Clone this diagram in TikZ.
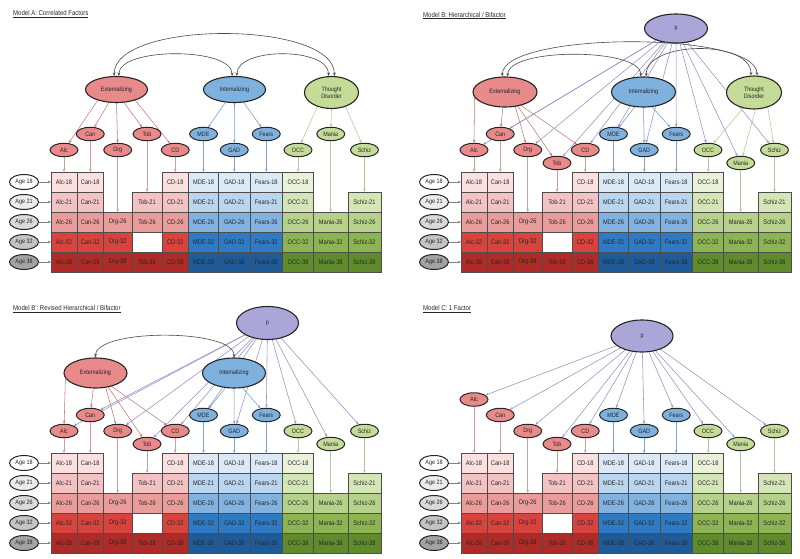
\documentclass[tikz,border=0pt]{standalone}
\usepackage{fontspec}
\setmainfont{Liberation Sans}[FakeStretch=0.86]
\usetikzlibrary{shapes.geometric,arrows.meta}
\pgfdeclarelayer{bg}
\pgfsetlayers{bg,main}
\definecolor{r18}{HTML}{FBE0E0}\definecolor{r21}{HTML}{F3C3C3}\definecolor{r26}{HTML}{EA9C9A}
\definecolor{r32}{HTML}{D9433E}\definecolor{r38}{HTML}{AE2B27}
\definecolor{b18}{HTML}{DCEAF7}\definecolor{b21}{HTML}{BAD5EE}\definecolor{b26}{HTML}{82B2E0}
\definecolor{b32}{HTML}{2F7BC3}\definecolor{b38}{HTML}{1F5B99}
\definecolor{g18}{HTML}{EBF2DC}\definecolor{g21}{HTML}{D4E6B6}\definecolor{g26}{HTML}{B6D28A}
\definecolor{g32}{HTML}{8DB452}\definecolor{g38}{HTML}{5F8B2D}
\definecolor{extc}{HTML}{E8898A}\definecolor{intc}{HTML}{7FB1DF}\definecolor{tdc}{HTML}{C5DC98}
\definecolor{pc}{HTML}{AAA6D7}
\definecolor{age21}{HTML}{ECECEC}\definecolor{age26}{HTML}{DADADA}\definecolor{age32}{HTML}{C4C4C4}\definecolor{age38}{HTML}{A3A3A3}
\definecolor{extl}{HTML}{C27A7A}\definecolor{intl}{HTML}{6E9ED0}\definecolor{tdl}{HTML}{B4C98F}
\definecolor{sextl}{HTML}{D59A9C}\definecolor{sintl}{HTML}{7FA7D3}\definecolor{stdl}{HTML}{B5C79D}
\definecolor{pl}{HTML}{9590C6}\definecolor{arcl}{HTML}{4A4A4A}\definecolor{agel}{HTML}{808080}
\definecolor{bord}{HTML}{262626}\definecolor{cellb}{HTML}{4D4D4D}\definecolor{txt}{HTML}{262626}
\tikzset{
  cell/.style={draw=cellb, line width=0.8pt, inner sep=0pt, outer sep=0pt, minimum height=20pt, font=\fontsize{6.6}{7}\selectfont, text=txt},
  sym/.style={ellipse, draw=bord, line width=1pt, inner sep=0pt, minimum width=28pt, minimum height=13.5pt, font=\fontsize{6.3}{7}\selectfont, text=txt},
  fac/.style={ellipse, draw=bord, line width=1.1pt, inner sep=0pt, font=\fontsize{6.3}{7.4}\selectfont, align=center, text=txt},
  agen/.style={ellipse, draw=bord, line width=1pt, inner sep=0pt, minimum width=29pt, minimum height=15pt, font=\fontsize{6.3}{7}\selectfont, text=txt},
  ln/.style={line width=0.55pt, -{Stealth[length=3.2pt,width=2.6pt]}},
  corr/.style={line width=0.6pt, draw=arcl, {Stealth[length=3.5pt,width=2.8pt]}-{Stealth[length=3.5pt,width=2.8pt]}},
  ttl/.style={anchor=west, font=\fontsize{7}{8}\selectfont, inner sep=0pt, text=txt}
}
\newcommand{\gridpanel}[3]{%
\begin{scope}[shift={(#2,#3)}]
\foreach \nm/\lx/\w/\fam/\rows in {
  Alc/0/26/r/{18/0,21/1,26/2,32/3,38/4},
  Can/26/26.5/r/{18/0,21/1,26/2,32/3,38/4},
  Drg/52.5/28.5/r/{26/2,32/3,38/4},
  Tob/81/30/r/{21/1,26/2,38/4},
  CD/111/26.5/r/{18/0,21/1,26/2,32/3,38/4},
  MDE/137.5/30/b/{18/0,21/1,26/2,32/3,38/4},
  GAD/167.5/31.5/b/{18/0,21/1,26/2,32/3,38/4},
  Fears/199/32.5/b/{18/0,21/1,26/2,32/3,38/4},
  OCC/231.5/31/g/{18/0,21/1,26/2,32/3,38/4},
  Mania/262.5/34.5/g/{26/2,32/3,38/4},
  Schiz/297/33/g/{21/1,26/2,32/3,38/4}}{
  \foreach \rw/\ix in \rows {
    \pgfmathsetmacro{\cx}{51+\lx+\w/2}
    \pgfmathsetmacro{\cy}{182+20*\ix}
    \edef\cc{\fam\rw}
    \node[cell, fill=\cc, minimum width=\w pt] (#1-\nm-\rw) at (\cx,\cy) {\nm-\rw};
  }
}
\node[cell, fill=white, minimum width=30pt] (#1-Tob-32) at (147,242) {};
\foreach \rw/\ix/\ac in {18/0/white,21/1/age21,26/2/age26,32/3/age32,38/4/age38} {
  \node[agen, fill=\ac] (#1-age\rw) at (24,182+20*\ix) {Age \rw};
  \draw[ln, draw=agel] (#1-age\rw) -- (#1-Alc-\rw);
}
\end{scope}}
\newcommand{\sympanel}[6]{%
\begin{scope}[shift={(#2,#3)}]
\node[sym, fill=extc] (#1-Alc) at (64,#4) {Alc};
\node[sym, fill=extc] (#1-Can) at (90.25,134) {Can};
\node[sym, fill=extc] (#1-Drg) at (117.75,150) {Drg};
\node[sym, fill=extc] (#1-Tob) at (147,#5) {Tob};
\node[sym, fill=extc] (#1-CD) at (175.25,150) {CD};
\node[sym, fill=intc] (#1-MDE) at (203.5,134) {MDE};
\node[sym, fill=intc] (#1-GAD) at (234.25,150) {GAD};
\node[sym, fill=intc] (#1-Fears) at (266.25,134) {Fears};
\node[sym, fill=tdc] (#1-OCC) at (298,150) {OCC};
\node[sym, fill=tdc] (#1-Mania) at (330.75,#6) {Mania};
\node[sym, fill=tdc] (#1-Schiz) at (364.5,150) {Schiz};
\end{scope}
\foreach \s/\r/\c in {Alc/18/sextl, Can/18/sextl, Drg/26/sextl, Tob/21/sextl, CD/18/sextl, MDE/18/sintl, GAD/18/sintl, Fears/18/sintl, OCC/18/stdl, Mania/26/stdl, Schiz/21/stdl}
  \draw[ln, draw=\c] (#1-\s) -- (#1-\s-\r);
}
\begin{document}
\begin{tikzpicture}[x=1pt, y=-1pt]
\useasboundingbox (0,0) rectangle (800,559);
% titles
\node[ttl] (tA) at (13,14) {\underline{Model A: Correlated Factors}};
\node[ttl] (tB) at (423,15.5) {\underline{Model B: Hierarchical / Bifactor}};
\node[ttl] (tR) at (13,309) {\underline{Model B': Revised Hierarchical / Bifactor}};
\node[ttl] (tC) at (423,309) {\underline{Model C: 1 Factor}};

% ---------- Panel A ----------
\gridpanel{A}{0}{0}
\sympanel{A}{0}{0}{150}{134}{134}
\node[fac, fill=extc, minimum width=62pt, minimum height=26pt] (A-Ext) at (116.5,89.5) {Externalizing};
\node[fac, fill=intc, minimum width=62pt, minimum height=26pt] (A-Int) at (234.5,89.5) {Internalizing};
\node[fac, fill=tdc, minimum width=54pt, minimum height=32pt] (A-TD) at (331.5,92.5) {Thought\\Disorder};
\begin{pgfonlayer}{bg}
\draw[ln, draw=extl] (A-Ext.210) -- (A-Alc);
\draw[ln, draw=extl] (A-Ext.240) -- (A-Can);
\draw[ln, draw=extl] (A-Ext.270) -- (A-Drg);
\draw[ln, draw=extl] (A-Ext.300) -- (A-Tob);
\draw[ln, draw=extl] (A-Ext.330) -- (A-CD);
\draw[ln, draw=intl] (A-Int.235) -- (A-MDE);
\draw[ln, draw=intl] (A-Int.270) -- (A-GAD);
\draw[ln, draw=intl] (A-Int.305) -- (A-Fears);
\draw[ln, draw=tdl] (A-TD.225) -- (A-OCC);
\draw[ln, draw=tdl] (A-TD.270) -- (A-Mania);
\draw[ln, draw=tdl] (A-TD.315) -- (A-Schiz);
\end{pgfonlayer}
\draw[corr] (A-Ext.100) .. controls +(0,-56) and +(0,-56) .. (A-TD.80);
\draw[corr] (A-Ext.80) .. controls +(0,-29) and +(0,-29) .. (A-Int.100);
\draw[corr] (A-Int.80) .. controls +(0,-29) and +(0,-29) .. (A-TD.100);

% ---------- Panel B ----------
\gridpanel{B}{410}{0}
\sympanel{B}{410}{0}{150}{163}{163}
\begin{scope}[shift={(410,0)}]
\node[fac, fill=pc, minimum width=63pt, minimum height=29pt] (B-p) at (266,28.5) {p};
\node[fac, fill=extc, minimum width=64pt, minimum height=30pt] (B-Ext) at (95,92) {Externalizing};
\node[fac, fill=intc, minimum width=64pt, minimum height=30pt] (B-Int) at (233.5,92) {Internalizing};
\node[fac, fill=tdc, minimum width=55pt, minimum height=33pt] (B-TD) at (344,92.5) {Thought\\Disorder};
\end{scope}
\begin{pgfonlayer}{bg}
\foreach \s in {Alc,Can,Drg,Tob,CD,MDE,GAD,Fears,OCC,Mania,Schiz}
  \draw[ln, draw=pl] (B-p) -- (B-\s);
\draw[ln, draw=extl] (B-Ext.190) -- (B-Alc);
\draw[ln, draw=extl] (B-Ext.262) -- (B-Can);
\draw[ln, draw=extl] (B-Ext.305) -- (B-Drg);
\draw[ln, draw=extl] (B-Ext.312) -- (B-Tob);
\draw[ln, draw=extl] (B-Ext.320) -- (B-CD);
\draw[ln, draw=intl] (B-Int.240) -- (B-MDE);
\draw[ln, draw=intl] (B-Int.270) -- (B-GAD);
\draw[ln, draw=intl] (B-Int.300) -- (B-Fears);
\draw[ln, draw=tdl] (B-TD.235) -- (B-OCC);
\draw[ln, draw=tdl] (B-TD.275) -- (B-Mania);
\draw[ln, draw=tdl] (B-TD.313) -- (B-Schiz);
\end{pgfonlayer}
\draw[corr] (B-Ext.100) .. controls +(0,-45) and +(0,-45) .. (B-TD.80);
\draw[corr] (B-Ext.80) .. controls +(0,-29) and +(0,-29) .. (B-Int.100);
\draw[corr] (B-Int.80) .. controls +(0,-36) and +(0,-36) .. (B-TD.100);

% ---------- Panel B' ----------
\gridpanel{R}{0}{281}
\sympanel{R}{0}{281}{150}{163}{163}
\begin{scope}[shift={(0,281)}]
\node[fac, fill=pc, minimum width=62pt, minimum height=33pt] (R-p) at (267.5,42) {p};
\node[fac, fill=extc, minimum width=63pt, minimum height=30pt] (R-Ext) at (95.5,92) {Externalizing};
\node[fac, fill=intc, minimum width=63pt, minimum height=30pt] (R-Int) at (234,92) {Internalizing};
\end{scope}
\begin{pgfonlayer}{bg}
\foreach \s in {Alc,Can,Drg,Tob,CD,MDE,GAD,Fears,OCC,Mania,Schiz}
  \draw[ln, draw=pl] (R-p) -- (R-\s);
\draw[ln, draw=extl] (R-Ext.190) -- (R-Alc);
\draw[ln, draw=extl] (R-Ext.262) -- (R-Can);
\draw[ln, draw=extl] (R-Ext.305) -- (R-Drg);
\draw[ln, draw=extl] (R-Ext.312) -- (R-Tob);
\draw[ln, draw=extl] (R-Ext.320) -- (R-CD);
\draw[ln, draw=intl] (R-Int.240) -- (R-MDE);
\draw[ln, draw=intl] (R-Int.270) -- (R-GAD);
\draw[ln, draw=intl] (R-Int.300) -- (R-Fears);
\end{pgfonlayer}
\draw[corr] (R-Ext.90) .. controls +(0,-29) and +(0,-29) .. (R-Int.90);

% ---------- Panel C ----------
\gridpanel{C}{410}{281}
\sympanel{C}{410}{281}{118.5}{163}{163}
\begin{scope}[shift={(410,281)}]
\node[fac, fill=pc, minimum width=62pt, minimum height=32pt] (C-p) at (232,55) {p};
\end{scope}
\begin{pgfonlayer}{bg}
\foreach \s in {Alc,Can,Drg,Tob,CD,MDE,GAD,Fears,OCC,Mania,Schiz}
  \draw[ln, draw=pl] (C-p) -- (C-\s);
\end{pgfonlayer}
\end{tikzpicture}
\end{document}
